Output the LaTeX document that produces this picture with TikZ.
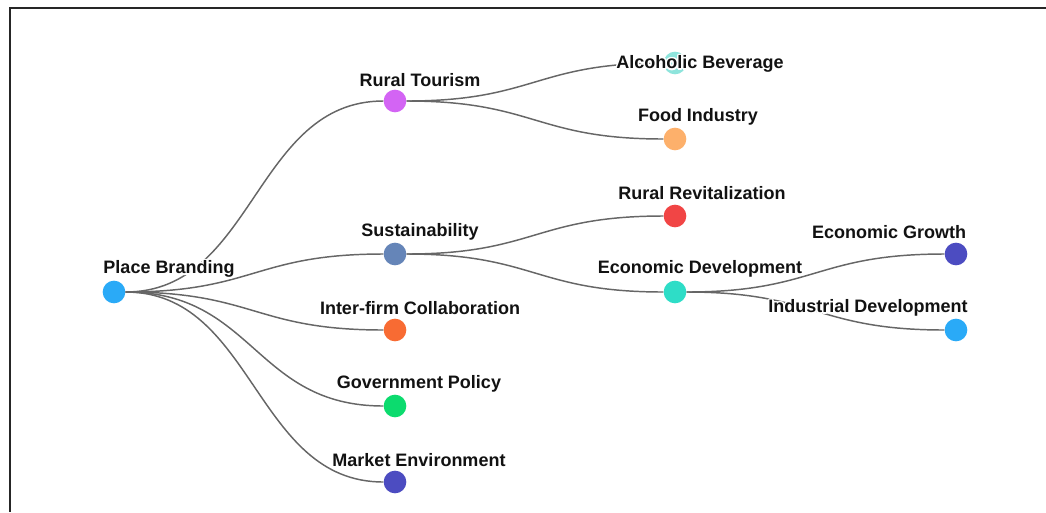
\documentclass[tikz,border=0pt]{standalone}
\usepackage{fontspec}
\setmainfont{Liberation Sans}
\usepackage{contour}
\contourlength{1.1pt}
\usetikzlibrary{calc}
\definecolor{cPB}{HTML}{2AAAF7}
\definecolor{cRT}{HTML}{D364F4}
\definecolor{cSU}{HTML}{6585B8}
\definecolor{cIC}{HTML}{F86B33}
\definecolor{cGP}{HTML}{0CDB6E}
\definecolor{cME}{HTML}{4C4CC1}
\definecolor{cAB}{HTML}{8EE4DC}
\definecolor{cFI}{HTML}{FDB06B}
\definecolor{cRR}{HTML}{F14545}
\definecolor{cED}{HTML}{2EDDC7}
\definecolor{cEG}{HTML}{4C4CC1}
\definecolor{cID}{HTML}{2AAAF7}
\newcommand{\halo}[1]{\contour{white}{#1}}
\tikzset{
  dot/.style={circle,fill=#1,minimum size=17pt,inner sep=0pt},
  lbl/.style={font=\bfseries\fontsize{13.5}{16}\selectfont,text=black!93,inner sep=0pt},
  treelink/.style={draw=black!60,line width=1.1pt},
  hcurve/.style={to path={.. controls ($(\tikztostart)!0.5!(\tikztostart -| \tikztotarget)$)
      and ($(\tikztotarget)!0.5!(\tikztotarget -| \tikztostart)$) .. (\tikztotarget)}}
}
\begin{document}
\begin{tikzpicture}[x=0.75pt,y=-0.75pt]
      \useasboundingbox (0,0) rectangle (1046,512);
      \draw[black!85,line width=0.9pt] (1046,8) -- (10,8) -- (10,512);
      \draw
        (114,292) node[dot=cPB] (pb){}
        (395,101) node[dot=cRT] (rt){}
        (395,254) node[dot=cSU] (su){}
        (395,330) node[dot=cIC] (ic){}
        (395,406) node[dot=cGP] (gp){}
        (395,482) node[dot=cME] (me){}
        (675,63) node[dot=cAB] (ab){}
        (675,139) node[dot=cFI] (fi){}
        (675,216) node[dot=cRR] (rr){}
        (675,292) node[dot=cED] (ed){}
        (956,254) node[dot=cEG] (eg){}
        (956,330) node[dot=cID] (id){};
      \begin{scope}[treelink,hcurve]
        \draw (pb) to (rt);
        \draw (pb) to (su);
        \draw (pb) to (ic);
        \draw (pb) to (gp);
        \draw (pb) to (me);
        \draw (rt) to (ab);
        \draw (rt) to (fi);
        \draw (su) to (rr);
        \draw (su) to (ed);
        \draw (ed) to (eg);
        \draw (ed) to (id);
      \end{scope}
      \draw
        (169,270) node[lbl] (pb-l){\halo{Place Branding}}
        (420,81) node[lbl] (rt-l){\halo{Rural Tourism}}
        (420,233) node[lbl] (su-l){\halo{Sustainability}}
        (420,309) node[lbl] (ic-l){\halo{Inter-firm Collaboration}}
        (419,385) node[lbl] (gp-l){\halo{Government Policy}}
        (419,461) node[lbl] (me-l){\halo{Market Environment}}
        (700,65) node[lbl] (ab-l){\halo{Alcoholic Beverage}}
        (698,118) node[lbl] (fi-l){\halo{Food Industry}}
        (702,194) node[lbl] (rr-l){\halo{Rural Revitalization}}
        (700,270) node[lbl] (ed-l){\halo{Economic Development}}
        (889,233) node[lbl] (eg-l){\halo{Economic Growth}}
        (868,309) node[lbl] (id-l){\halo{Industrial Development}};
    \end{tikzpicture}
\end{document}
